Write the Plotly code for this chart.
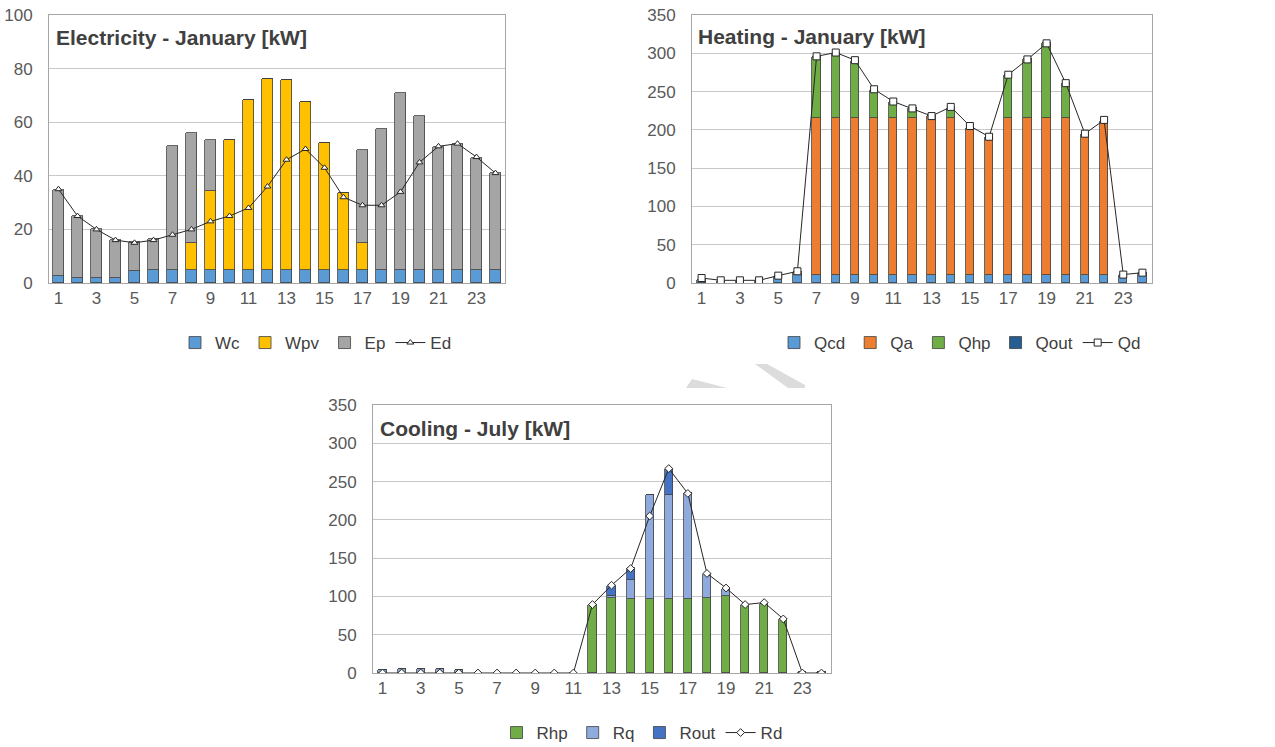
import plotly.graph_objects as go

hours = list(range(1, 25))
odd_ticks = list(range(1, 24, 2))

# Electricity - January [kW]
wc = [2.7, 2, 2, 2, 4.6, 5, 5, 5, 5, 5, 5, 5, 5, 5, 5, 5, 5, 5, 5, 5, 5, 5, 5, 5]
wpv = [0, 0, 0, 0, 0, 0, 0, 10, 29.2, 48.2, 63.3, 71.1, 70.8, 62.7, 47.2, 28.5, 9.8, 0, 0, 0, 0, 0, 0, 0]
ep = [32.1, 23, 18, 14, 10.6, 11.4, 46.3, 41, 19.3, 0, 0, 0, 0, 0, 0, 0, 34.8, 52.5, 65.8, 57.4, 45.9, 46.9, 41.8, 36]
ed = [35, 25, 20, 16, 15, 16, 18, 20, 23, 25, 28, 36, 46, 50, 43, 32, 29, 29, 34, 45, 51, 52, 47, 41]

# Heating - January [kW]
qcd = [4, 2, 2, 2, 9, 10, 10, 10, 10, 10, 10, 10, 10, 10, 10, 10, 10, 10, 10, 10, 10, 10, 10, 13]
qa = [0, 0, 0, 0, 0, 5, 205, 205, 205, 205, 205, 205, 208, 205, 193, 181, 205, 205, 205, 205, 184, 202, 0, 0]
qhp = [0, 0, 0, 0, 0, 0, 80, 86, 75, 37, 22, 13, 0, 14, 0, 0, 57, 77, 98, 46, 0, 0, 0, 0]
qout = [0] * 24
qd = [6.5, 3.5, 3.5, 3.5, 9.6, 15.3, 296, 301, 291, 253, 237, 228, 218, 230, 205, 191, 272, 292, 313, 261, 195, 213, 11, 13.5]

# Cooling - July [kW]
rhp = [0, 0, 0, 0, 0, 0, 0, 0, 0, 0, 0, 88.5, 98.5, 97, 96, 96, 97, 98, 100, 89.4, 90.7, 70, 0, 0]
rq = [4.4, 5.7, 5.7, 5.7, 3.5, 0, 0, 0, 0, 0, 0, 0, 1.5, 24, 137, 137, 137.5, 31, 10, 0, 0, 0, 1, 1]
rout = [0, 0, 0, 0, 0, 0, 0, 0, 0, 0, 0, 0, 14, 16, 0, 33, 0, 0, 0, 0, 0, 0, 0, 0]
rd = [0, 0, 0, 0, 0, 0, 0, 0, 0, 0, 0, 89.4, 114.6, 136.4, 205, 267, 234.5, 130, 111, 89.4, 92, 70.6, 0, 0]

W, H = 1275, 747
FONT = "Liberation Sans, Arial, sans-serif"
EDGE = "#404040"

fig = go.Figure()


def add_bar(x, y, name, color, xa, ya, leg, width):
    fig.add_trace(go.Bar(x=x, y=y, name=name, xaxis=xa, yaxis=ya, legend=leg,
                         width=width,
                         marker=dict(color=color, line=dict(color=EDGE, width=0.8))))


def add_line(x, y, name, symbol, size, xa, ya, leg):
    fig.add_trace(go.Scatter(x=x, y=y, name=name, xaxis=xa, yaxis=ya, legend=leg,
                             mode="lines+markers",
                             line=dict(color="#262626", width=1),
                             marker=dict(symbol=symbol, size=size, color="white",
                                         line=dict(color="#262626", width=1))))


# chart 1
add_bar(hours, wc, "Wc", "#5B9BD5", "x", "y", "legend", 0.56)
add_bar(hours, wpv, "Wpv", "#FFC000", "x", "y", "legend", 0.56)
add_bar(hours, ep, "Ep", "#A5A5A5", "x", "y", "legend", 0.56)
add_line(hours, ed, "Ed", "triangle-up", 6, "x", "y", "legend")

# chart 2
add_bar(hours, qcd, "Qcd", "#5B9BD5", "x2", "y2", "legend2", 0.43)
add_bar(hours, qa, "Qa", "#ED7D31", "x2", "y2", "legend2", 0.43)
add_bar(hours, qhp, "Qhp", "#70AD47", "x2", "y2", "legend2", 0.43)
add_bar(hours, qout, "Qout", "#255E91", "x2", "y2", "legend2", 0.43)
add_line(hours, qd, "Qd", "square", 7, "x2", "y2", "legend2")

# chart 3
add_bar(hours, rhp, "Rhp", "#70AD47", "x3", "y3", "legend3", 0.43)
add_bar(hours, rq, "Rq", "#8FAADC", "x3", "y3", "legend3", 0.43)
add_bar(hours, rout, "Rout", "#4472C4", "x3", "y3", "legend3", 0.43)
add_line(hours, rd, "Rd", "diamond", 6, "x3", "y3", "legend3")


def px_x(a, b):
    return [a / W, b / W]


def px_y(top, bottom):
    return [1 - bottom / H, 1 - top / H]


tickfont = dict(family=FONT, size=17, color="#595959")
xcommon = dict(range=[0.5, 24.5], tickvals=odd_ticks, ticks="", showgrid=False,
               showline=True, linecolor="#A6A6A6", linewidth=1, mirror=True,
               tickfont=tickfont, fixedrange=True, zeroline=False, automargin=False)
ycommon = dict(ticks="", showgrid=True, gridcolor="#C8C8C8", gridwidth=1,
               showline=True, linecolor="#A6A6A6", linewidth=1, mirror=True,
               tickfont=tickfont, zeroline=False, ticklabelstandoff=12, automargin=False)

fig.update_layout(
    width=W, height=H, margin=dict(l=0, r=0, t=0, b=0, autoexpand=False),
    paper_bgcolor="white", plot_bgcolor="white",
    barmode="stack", bargap=0,
    font=dict(family=FONT, color="#404040"),
    xaxis=dict(domain=px_x(49, 505), anchor="y", **xcommon),
    yaxis=dict(domain=px_y(15, 283), anchor="x", range=[0, 100], dtick=20, **ycommon),
    xaxis2=dict(domain=px_x(692, 1152), anchor="y2", **xcommon),
    yaxis2=dict(domain=px_y(15, 283), anchor="x2", range=[0, 350], dtick=50, **ycommon),
    xaxis3=dict(domain=px_x(373, 831), anchor="y3", **xcommon),
    yaxis3=dict(domain=px_y(405, 673), anchor="x3", range=[0, 350], dtick=50, **ycommon),
    showlegend=True,
)

legfont = dict(family=FONT, size=17, color="#404040")
for key, cx, cy in [("legend", 316, 343), ("legend2", 960, 343), ("legend3", 642, 733)]:
    fig.update_layout({key: dict(orientation="h", x=cx / W, y=1 - cy / H,
                                 xanchor="center", yanchor="middle",
                                 font=legfont, itemwidth=30, bgcolor="rgba(0,0,0,0)",
                                 traceorder="normal", tracegroupgap=0)})

titles = [("Electricity - January [kW]", 54, 38),
          ("Heating - January [kW]", 696, 36),
          ("Cooling - July [kW]", 378, 428)]
for text, tx, ty in titles:
    fig.add_annotation(text="<b>" + text + "</b>", xref="paper", yref="paper",
                       x=tx / W, y=1 - ty / H, xanchor="left", yanchor="middle",
                       showarrow=False, font=dict(family=FONT, size=21, color="#404040"))


# faint watermark fragments between the charts
def poly(pts):
    s = "M " + " L ".join(f"{x / W:.5f},{1 - y / H:.5f}" for x, y in pts) + " Z"
    return s


for pts in [[(686, 388), (692, 379), (727, 388)],
            [(755, 364), (767, 364), (805, 385), (805, 388), (788, 388)]]:
    fig.add_shape(type="path", path=poly(pts), xref="paper", yref="paper",
                  fillcolor="#DCDCDC", line=dict(width=0), layer="below")

post = (
    "document.documentElement.style.margin='0';"
    "document.body.style.margin='0';document.body.style.overflow='hidden';"
    "var gd=document.getElementById('{plot_id}');"
    "gd.style.width='1275px';gd.style.height='747px';"
    "Plotly.relayout(gd,{width:1275,height:747});"
)
fig.write_html("out.html", config={"displayModeBar": False, "responsive": False},
               post_script=post)
